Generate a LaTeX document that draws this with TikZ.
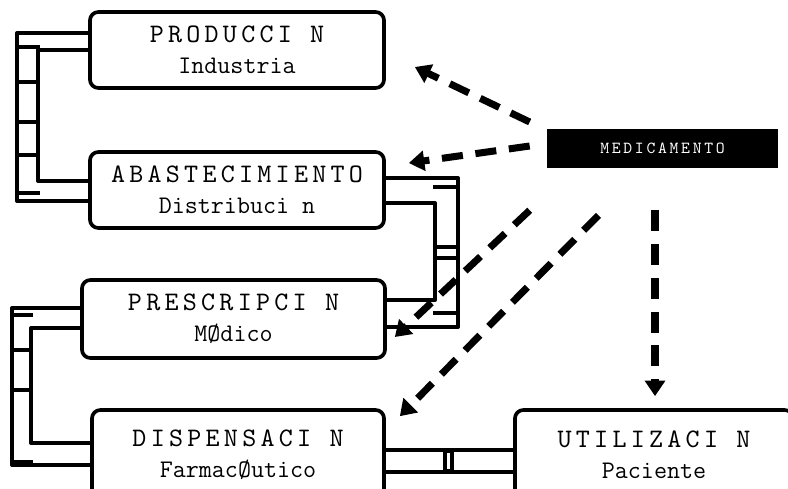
\documentclass[tikz,border=0pt]{standalone}
\usepackage{fontspec}
\newfontfamily\espaciado{lmmono10-regular.otf}[LetterSpace=16]
\newcommand\titulo{\espaciado\fontsize{19}{22}\selectfont}
\usetikzlibrary{calc,arrows.meta}
\begin{document}
\begin{tikzpicture}[x=0.025cm,y=0.025cm,line join=round]
	\useasboundingbox (0,0) rectangle (788,488);
	\clip (0,0) rectangle (788,488);
	\tikzset{caja/.style={draw,line width=2.6pt,rounded corners=6pt,align=center,
		font=\ttfamily\fontsize{18}{22}\selectfont,inner sep=0pt},
		tubo/.style={line width=3pt},
		flecha/.style={line width=5pt,dash pattern=on 15pt off 9pt,
		-{Triangle[length=11pt,width=14pt]}}}
	%cajas
	\node[caja,minimum width=7.35cm,minimum height=1.9cm] (prod) at (237,438) {{\titulo PRODUCCI N}\\Industria};
	\node[caja,minimum width=7.35cm,minimum height=1.9cm] (abast) at (237,298) {{\titulo ABASTECIMIENTO}\\Distribuci n};
	\node[caja,minimum width=7.575cm,minimum height=1.95cm] (presc) at (233.5,169) {{\titulo PRESCRIPCI N}\\MØdico};
	\node[caja,minimum width=7.3cm,minimum height=2.25cm] (disp) at (238,33) {{\titulo DISPENSACI N}\\FarmacØutico};
	\node[caja,minimum width=6.95cm,minimum height=2.25cm] (util) at (654,33) {{\titulo UTILIZACI N}\\Paciente};
	\node[fill=black,text=white,minimum width=5.775cm,minimum height=0.975cm,
		font=\ttfamily\fontsize{12}{14}\selectfont] (med) at (662.5,339.5) {\espaciado MEDICAMENTO};
	%tubos
	\draw[tubo] ($(prod.west)+(0,17)$) -- ++(-71,0) |- ($(abast.west)+(0,-11)$);
	\draw[tubo] (prod.west) -- ++(-50,0) |- ($(abast.west)+(0,9)$);
	\foreach \y in {441,406,366,333,295} \draw[tubo] (19,\y) -- (40,\y);
	\draw[tubo] ($(abast.east)+(0,12)$) -- ++(72,0) |- ($(presc.east)+(0,-8)$);
	\draw[tubo] ($(abast.east)+(0,-13)$) -- ++(49,0) |- ($(presc.east)+(0,19)$);
	\foreach \y in {301,241,230,175} \draw[tubo] (433,\y) -- (456,\y);
	\draw[tubo] ($(presc.west)+(0,11)$) -- ++(-68,0) |- ($(disp.west)+(0,-10)$);
	\draw[tubo] ($(presc.west)+(0,-9)$) -- ++(-49,0) |- ($(disp.west)+(0,12)$);
	\foreach \y in {173,138,98,26} \draw[tubo] (14,\y) -- (33,\y);
	\draw[tubo] ($(disp.east)+(0,5)$) -- ($(util.west)+(0,5)$);
	\draw[tubo] ($(disp.east)+(0,-17)$) -- ($(util.west)+(0,-17)$);
	\draw[tubo] (445,17) rectangle (452,37);
	%flechas
	\draw[flecha] ($(med.west)+(-17,26.5)$) -- ($(prod.east)+(29,-17)$);
	\draw[flecha] ($(med.west)+(-17,2.5)$) -- ($(abast.east)+(23,27)$);
	\draw[flecha] ($(med.south west)+(-17,-42)$) -- ($(presc.east)+(8,-18)$);
	\draw[flecha] ($(med.south)+(-64,-47)$) -- ($(disp.north east)+(14,-8)$);
	\draw[flecha] ($(med.south)+(-7.5,-42)$) -- ($(util.north)+(1,12)$);
\end{tikzpicture}
\end{document}
